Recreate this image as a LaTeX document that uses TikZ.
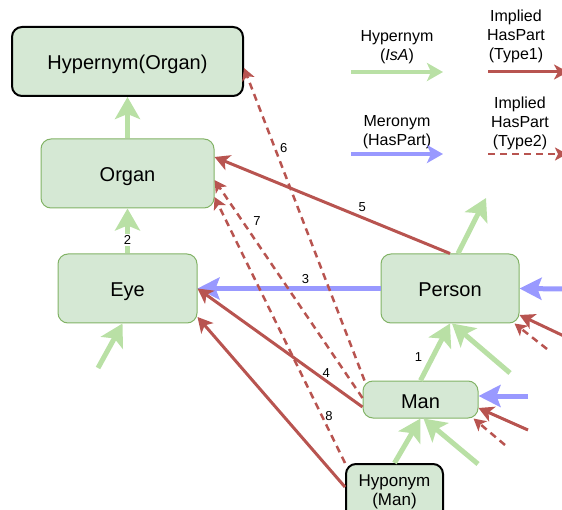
\documentclass[tikz,border=0pt]{standalone}
\usepackage{fontspec}
\setmainfont{Liberation Sans}
\usetikzlibrary{arrows.meta,calc}
\definecolor{nodefill}{HTML}{D5E8D4}
\definecolor{nodeline}{HTML}{82B366}
\definecolor{isagreen}{HTML}{B9E0A5}
\definecolor{merblue}{HTML}{9999FF}
\definecolor{impred}{HTML}{B85450}
\begin{document}
\begin{tikzpicture}[x=1pt,y=-1pt,
  box/.style={draw=nodeline, line width=1pt, fill=nodefill, rounded corners=10pt, inner sep=0pt, align=center, font=\fontsize{20}{24}\selectfont},
  oneline/.style={text height=19pt, text depth=2pt},
  keybox/.style={box, draw=black, line width=2pt},
  isa/.style={draw=isagreen, line width=5pt, -{Stealth[length=22pt,width=25pt,inset=5pt]}},
  mer/.style={draw=merblue, line width=5pt, -{Stealth[length=22pt,width=22pt,inset=4pt]}},
  imp/.style={draw=impred, line width=3pt, -{Stealth[length=15pt,width=16pt,inset=4pt]}},
  impd/.style={draw=impred, line width=2.5pt, dash pattern=on 7pt off 5pt, -{Stealth[length=12pt,width=13pt,inset=3pt]}},
  lisa/.style={draw=isagreen, line width=3.5pt, -{Stealth[length=16pt,width=18pt,inset=4pt]}},
  lmer/.style={draw=merblue, line width=3.5pt, -{Stealth[length=16pt,width=18pt,inset=4pt]}},
  limp/.style={draw=impred, line width=3pt, -{Stealth[length=14pt,width=15pt,inset=4pt]}},
  limpd/.style={draw=impred, line width=2.5pt, dash pattern=on 7pt off 5pt, -{Stealth[length=12pt,width=13pt,inset=3pt]}},
  lbl/.style={font=\fontsize{13}{15}\selectfont, inner sep=1pt},
  legend/.style={align=center, font=\fontsize{16}{19}\selectfont, inner sep=0pt}
]
\useasboundingbox (0,0) rectangle (562,510);

% nodes
\node[keybox, oneline, minimum width=231pt, minimum height=69pt] (hyper) at (127.5,61.5) {Hypernym(Organ)};
\node[box, oneline, minimum width=173pt, minimum height=69pt] (organ) at (127.5,173.5) {Organ};
\node[box, oneline, minimum width=139pt, minimum height=69pt] (eye) at (127.5,288.5) {Eye};
\node[box, oneline, minimum width=138pt, minimum height=69pt] (person) at (450,288.5) {Person};
\node[box, oneline, minimum width=115pt, minimum height=37pt] (man) at (420.5,399.5) {Man};
\node[keybox, minimum width=97pt, minimum height=56pt, font=\fontsize{17}{19}\selectfont] (hypo) at (394.5,492) {Hyponym\\(Man)};

% legend
\node[legend] (l1) at (397,47) {Hypernym\\(\textit{IsA})};
\node[legend] (l2) at (516,36) {Implied\\HasPart\\(Type1)};
\node[legend] (l3) at (397,132) {Meronym\\(HasPart)};
\node[legend] (l4) at (520,123) {Implied\\HasPart\\(Type2)};
\coordinate (a1s) at (351,72);  \coordinate (a1e) at (443,72);
\coordinate (a2s) at (488,72);  \coordinate (a2e) at (568,72);
\coordinate (a3s) at (351,154); \coordinate (a3e) at (443,154);
\coordinate (a4s) at (488,154); \coordinate (a4e) at (567,154);
\draw[lisa] (a1s) -- (a1e);
\draw[limp] (a2s) -- (a2e);
\draw[lmer] (a3s) -- (a3e);
\draw[limpd] (a4s) -- (a4e);

% free ends
\coordinate (g3s) at (98,368);
\coordinate (g4e) at (486,198);
\coordinate (g6s) at (510,373);
\coordinate (g8s) at (478,464);
\coordinate (b2s) at (566,289);
\coordinate (b3s) at (528,396);
\coordinate (r1s) at (566,337);
\coordinate (r2s) at (528,430);
\coordinate (d1s) at (547,349);
\coordinate (d2s) at (505,445);

% IsA (green)
\draw[isa] (organ.north) -- (hyper.south);
\draw[isa] (eye.north) -- node[lbl, pos=0.3, fill=white]{2} (organ.south);
\draw[isa] (g3s) -- ([xshift=-5pt]eye.south);
\draw[isa] ([xshift=8pt]person.north) -- (g4e);
\draw[isa] (man.north) -- node[lbl, pos=0.41, left=7pt]{1} (person.south);
\draw[isa] (g6s) -- ([xshift=2pt]person.south);
\draw[isa] (hypo.north) -- (man.south);
\draw[isa] (g8s) -- ([xshift=3pt]man.south);

% Meronym (blue)
\draw[mer] (person.west) -- node[lbl, pos=0.41, above=1pt]{3} (eye.east);
\draw[mer] (b2s) -- (person.east);
\draw[mer] (b3s) -- ([yshift=3.5pt]man.east);

% Implied Type1 (solid red)
\draw[imp] (person.north) -- node[lbl, pos=0.373, above=3pt]{5} ([yshift=16.5pt]organ.east);
\draw[imp] ([yshift=-7.5pt]man.west) -- node[lbl, pos=0.22, above=1pt]{4} (eye.east);
\draw[imp] ([yshift=5pt]hypo.west) -- ([yshift=-28.5pt]eye.east);
\draw[imp] (r1s) -- ([yshift=-26.5pt]person.east);
\draw[imp] (r2s) -- ([yshift=-8.5pt]man.east);

% Implied Type2 (dashed red)
\draw[impd] ([xshift=2pt]man.north west) -- node[lbl, pos=0.744, right=3pt]{6} ([yshift=-6.5pt]hyper.east);
\draw[impd] ([yshift=1.5pt]man.west) -- node[lbl, pos=0.81, right=8.5pt]{7} ([yshift=-6.5pt]organ.east);
\draw[impd] (hypo.north west) -- node[lbl, pos=0.175, right=1pt]{8} ([yshift=-23.5pt]organ.east);
\draw[impd] (d1s) -- ([xshift=-5pt]person.south east);
\draw[impd] (d2s) -- ([xshift=-5pt]man.south east);
\end{tikzpicture}
\end{document}
